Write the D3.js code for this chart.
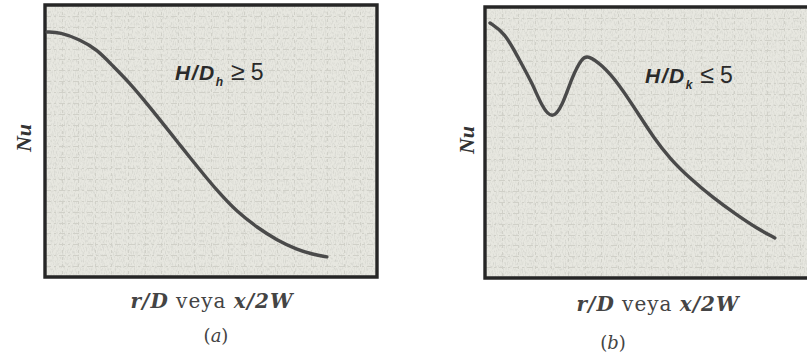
<!DOCTYPE html>
<html>
<head>
<meta charset="utf-8">
<script src="https://cdn.jsdelivr.net/npm/d3@7/dist/d3.min.js"></script>
<style>
  html, body { margin: 0; padding: 0; background: #fff; }
  svg { display: block; }
</style>
</head>
<body>
<svg id="chart" width="807" height="360"></svg>
<script>
// Normalised position along the surface (r/D or x/2W) and Nusselt number
const rA  = [0.006, 0.045, 0.105, 0.157, 0.205, 0.256, 0.295, 0.337, 0.377, 0.410, 0.446, 0.488, 0.527, 0.578, 0.639, 0.699, 0.759, 0.807, 0.849];
const nuA = [0.901, 0.900, 0.873, 0.836, 0.775, 0.712, 0.655, 0.592, 0.531, 0.480, 0.425, 0.362, 0.306, 0.240, 0.182, 0.135, 0.101, 0.083, 0.074];

const rB  = [0.015, 0.060, 0.099, 0.142, 0.172, 0.202, 0.232, 0.262, 0.292, 0.310, 0.352, 0.401, 0.467, 0.506, 0.557, 0.617, 0.687, 0.759, 0.819, 0.873];
const nuB = [0.941, 0.904, 0.815, 0.720, 0.631, 0.585, 0.631, 0.742, 0.812, 0.822, 0.786, 0.720, 0.596, 0.522, 0.440, 0.368, 0.296, 0.232, 0.183, 0.148];

const panelTags   = ["a", "b"];
const regimeHead  = ["H/D", "H/D"];
const regimeSub   = ["h", "k"];
const regimeRel   = ["\u2265", "\u2264"];
const regimeVal   = ["5", "5"];

const svg = d3.select("#chart");

// faint print texture inside each frame
const defs = svg.append("defs");
const flt = defs.append("filter").attr("id", "grain").attr("x", 0).attr("y", 0).attr("width", 1).attr("height", 1);
flt.append("feTurbulence").attr("type", "fractalNoise").attr("baseFrequency", "0.9 0.35").attr("numOctaves", 2).attr("seed", 3).attr("result", "n");
flt.append("feColorMatrix").attr("in", "n").attr("type", "matrix")
  .attr("values", "0 0 0 0 0.35  0 0 0 0 0.36  0 0 0 0 0.33  0 0 0 -1.1 0.62");
flt.append("feComposite").attr("in2", "SourceGraphic").attr("operator", "in");

const panels = [
  { x0: 45,  x1: 377, y0: 5, y1: 277, r: rA, nu: nuA, closedRight: true,
    nuPos: [24, 138], regPos: [175, 80], xlab: [212, 308], tag: [216, 342] },
  { x0: 485, x1: 817, y0: 7, y1: 278, r: rB, nu: nuB, closedRight: false,
    nuPos: [467, 140], regPos: [645, 83], xlab: [658, 311], tag: [613, 349] }
];

panels.forEach((p, i) => {
  const g = svg.append("g");
  const x = d3.scaleLinear().domain([0, 1]).range([p.x0, p.x1]);
  const y = d3.scaleLinear().domain([0, 1]).range([p.y1, p.y0]);

  // frame fill
  g.append("rect")
    .attr("x", p.x0).attr("y", p.y0)
    .attr("width", p.x1 - p.x0).attr("height", p.y1 - p.y0)
    .attr("fill", "#e7e7e0");
  g.append("rect")
    .attr("x", p.x0).attr("y", p.y0)
    .attr("width", p.x1 - p.x0).attr("height", p.y1 - p.y0)
    .attr("fill", "#fff").attr("filter", "url(#grain)").attr("opacity", 0.55);

  // light ruling of the graph paper
  const grid = g.append("g").attr("stroke", "#d0d0c8").attr("stroke-width", 1).attr("stroke-dasharray", "6 3 2 3");
  grid.selectAll("line.h").data(d3.range(0.04, 1, 0.04)).join("line")
    .attr("x1", p.x0).attr("x2", p.x1)
    .attr("y1", d => Math.round(y(d)) + 0.5).attr("y2", d => Math.round(y(d)) + 0.5);
  grid.selectAll("line.v").data(d3.range(0.05, 1, 0.05)).join("line")
    .attr("stroke-dasharray", "3 4")
    .attr("x1", d => Math.round(x(d)) + 0.5).attr("x2", d => Math.round(x(d)) + 0.5)
    .attr("y1", p.y0).attr("y2", p.y1);

  // frame
  const fp = d3.path();
  if (p.closedRight) {
    fp.rect(p.x0, p.y0, p.x1 - p.x0, p.y1 - p.y0);
  } else {
    fp.moveTo(p.x1 + 5, p.y0); fp.lineTo(p.x0, p.y0); fp.lineTo(p.x0, p.y1); fp.lineTo(p.x1 + 5, p.y1);
  }
  g.append("path").attr("d", fp.toString())
    .attr("fill", "none").attr("stroke", "#262626").attr("stroke-width", 3.4);

  // Nu distribution curve, smoothed through the read points
  const line = d3.line()
    .x((d, k) => x(p.r[k]))
    .y((d, k) => y(p.nu[k]))
    .curve(d3.curveBasis);
  g.append("path").datum(p.r)
    .attr("d", line)
    .attr("fill", "none").attr("stroke", "#4a4a4a").attr("stroke-width", 3.4)
    .attr("stroke-linecap", "round");

  // regime annotation
  const t = g.append("text")
    .attr("x", p.regPos[0]).attr("y", p.regPos[1])
    .attr("font-family", "Liberation Sans, Arial, sans-serif")
    .attr("font-size", 21).attr("fill", "#2a2a2a");
  t.append("tspan").attr("font-style", "italic").attr("font-weight", "bold").attr("letter-spacing", 1.5).text(regimeHead[i]);
  t.append("tspan").attr("font-size", 12).attr("font-style", "italic").attr("font-weight", "bold").attr("dy", 6).text(regimeSub[i]);
  t.append("tspan").attr("dy", -6).attr("dx", 8).attr("font-size", 25).text(regimeRel[i]);
  t.append("tspan").attr("dx", 6).attr("font-size", 23).text(regimeVal[i]);

  // y title
  g.append("text")
    .attr("transform", `translate(${p.nuPos[0] + 7},${p.nuPos[1]}) rotate(-90)`)
    .attr("text-anchor", "middle")
    .attr("font-family", "Liberation Serif, Times New Roman, serif")
    .attr("font-style", "italic").attr("font-weight", "bold")
    .attr("font-size", 22).attr("fill", "#333")
    .text("Nu");

  // x title
  const xt = g.append("text")
    .attr("x", p.xlab[0]).attr("y", p.xlab[1])
    .attr("text-anchor", "middle")
    .attr("font-family", "DejaVu Serif, serif")
    .attr("font-size", 20).attr("letter-spacing", 1).attr("fill", "#444");
  xt.append("tspan").attr("font-style", "italic").attr("font-weight", "bold").text("r/D");
  xt.append("tspan").text(" veya ");
  xt.append("tspan").attr("font-style", "italic").attr("font-weight", "bold").text("x/2W");

  const tg = g.append("text")
    .attr("x", p.tag[0]).attr("y", p.tag[1])
    .attr("text-anchor", "middle")
    .attr("font-family", "DejaVu Serif, serif")
    .attr("font-size", 18).attr("fill", "#444");
  tg.append("tspan").text("(");
  tg.append("tspan").attr("font-style", "italic").text(panelTags[i]);
  tg.append("tspan").text(")");
});
</script>
</body>
</html>
